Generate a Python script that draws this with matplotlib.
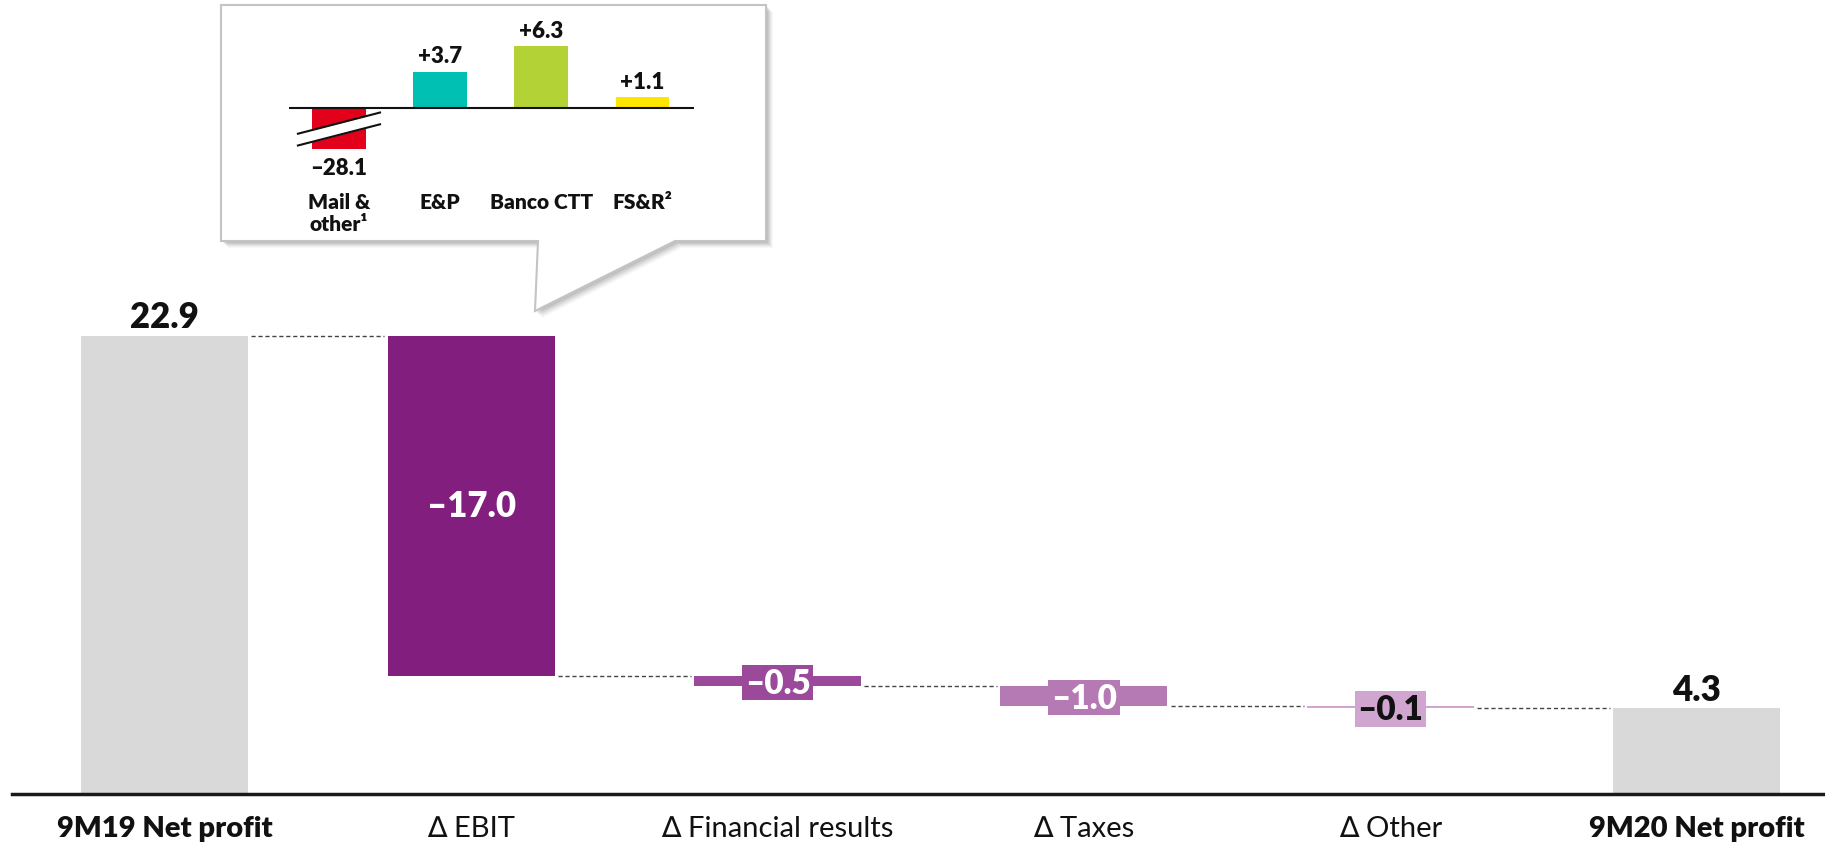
import numpy as np
import matplotlib.pyplot as plt
from matplotlib.patches import Polygon, Rectangle

plt.rcParams["font.family"] = ["Lato", "DejaVu Sans"]

# net profit bridge, EUR m
steps = ["9M19 Net profit", "∆ EBIT", "∆ Financial results", "∆ Taxes", "∆ Other", "9M20 Net profit"]
start_value = 22.9
deltas = [-17.0, -0.5, -1.0, -0.1]
end_value = 4.3
delta_colors = ["#821e7e", "#9b4a9b", "#b57ab4", "#d0a5cf"]
total_color = "#d9d9d9"

# EBIT change by segment (callout)
segments = ["Mail &\nother¹", "E&P", "Banco CTT", "FS&R²"]
segment_values = [-28.1, 3.7, 6.3, 1.1]
segment_colors = ["#e2001a", "#00bfb3", "#b2d235", "#ffe600"]

W, H = 1825, 845
fig = plt.figure(figsize=(W / 100, H / 100), dpi=100)

# ---- main waterfall
ax = fig.add_axes([0.0064, 0.0591, 0.9936, 0.9409])
x = np.arange(len(steps))
bw = 0.545
levels = start_value + np.cumsum(deltas)
prev = np.concatenate([[start_value], levels[:-1]])

ax.bar(x[0], start_value, bw, color=total_color, zorder=2)
ax.bar(x[1:5], deltas, bw, bottom=prev, color=delta_colors, zorder=2)
ax.bar(x[5], end_value, bw, color=total_color, zorder=2)

# dashed connectors
conn = np.concatenate([[start_value], levels])
for i, lv in enumerate(conn):
    ax.plot([i + bw / 2 + 0.01, i + 1 - bw / 2 - 0.01], [lv, lv],
            ls=(0, (3, 2)), color="#444444", lw=1, zorder=1)

# totals
for i, v in [(x[0], start_value), (x[5], end_value)]:
    ax.annotate(f"{v:.1f}", (i, v), xytext=(0, 6), textcoords="offset points",
                ha="center", va="baseline", fontsize=25, fontweight="heavy", color="#111111")

# deltas
box_w, box_h = 0.232, 1.75
for i, p, d, c in zip(x[1:5], prev, deltas, delta_colors):
    mid = p + d / 2
    txt = f"–{abs(d):.1f}"
    if i == 1:
        ax.text(i, mid, txt, ha="center", va="center", fontsize=25,
                fontweight="heavy", color="white", zorder=4)
        continue
    ax.add_patch(Rectangle((i - box_w / 2, mid - box_h / 2 - 0.1), box_w, box_h,
                           facecolor=c, edgecolor="none", zorder=3))
    ax.text(i, mid - 0.1, txt, ha="center", va="center", fontsize=24, fontweight="heavy",
            color="white" if i < 4 else "#111111", zorder=4)

ax.set_xlim(-0.499, 5.418)
ax.set_ylim(0, 39.72)
ax.set_xticks(x, steps, fontsize=21, color="#111111")
for k in (0, 5):
    ax.get_xticklabels()[k].set_fontweight("heavy")
ax.tick_params(axis="x", length=0, pad=15)
ax.set_yticks([])
for s in ("top", "left", "right"):
    ax.spines[s].set_visible(False)
ax.spines["bottom"].set_linewidth(2.5)
ax.spines["bottom"].set_color("#1a1a1a")

# ---- callout box (pixel coords)
deco = fig.add_axes([0, 0, 1, 1], zorder=2)
deco.set_xlim(0, W)
deco.set_ylim(H, 0)
deco.axis("off")
callout = [(221, 6), (766, 6), (766, 242), (675, 242), (535, 312), (538, 242), (221, 242)]
for k, a in [(7, 0.05), (6, 0.07), (5, 0.09), (4, 0.11), (3, 0.13), (2, 0.15)]:
    deco.add_patch(Polygon([(px + k, py + k) for px, py in callout], closed=True,
                           facecolor="#7f7f7f", alpha=a, lw=0))
deco.add_patch(Polygon(callout, closed=True, facecolor="white", edgecolor="#c4c4c4", lw=1.5))

# ---- EBIT breakdown inset
ax_in = fig.add_axes([0.1582, 0.8228, 0.2219, 0.136], zorder=3)
ax_in.axis("off")
xs = np.arange(len(segments))
ax_in.bar(xs, segment_values, 0.53, color=segment_colors, zorder=2)
ax_in.axhline(0, color="#111111", lw=1.5, zorder=3)
ax_in.set_xlim(-0.494, 3.506)
ax_in.set_ylim(-4.14, 7.57)

# axis break on the red bar
bx = np.array([-0.403, 0.408])
upper = np.array([-2.61, -0.45])
lower = np.array([-3.81, -1.65])
ax_in.fill_between(bx, lower, upper, color="white", lw=0, zorder=4)
ax_in.plot(bx, upper, color="#111111", lw=1.5, zorder=5)
ax_in.plot(bx, lower, color="#111111", lw=1.5, zorder=5)

for i, v in zip(xs, segment_values):
    if v >= 0:
        ax_in.annotate(f"+{v:.1f}", (i, v), xytext=(0, 7), textcoords="offset points",
                       ha="center", va="baseline", fontsize=16, fontweight="heavy",
                       color="#111111", annotation_clip=False)
    else:
        ax_in.annotate(f"–{abs(v):.1f}", (i, 0), xycoords=("data", "axes fraction"),
                       xytext=(0, -6), textcoords="offset points", ha="center", va="top",
                       fontsize=16, fontweight="heavy", color="#111111", annotation_clip=False)
    ax_in.annotate(segments[i], (i, 0), xycoords=("data", "axes fraction"),
                   xytext=(0, -31), textcoords="offset points", ha="center", va="top",
                   fontsize=15, fontweight="heavy", color="#111111", linespacing=1.2,
                   annotation_clip=False)

fig.savefig("out.png", dpi=100)
